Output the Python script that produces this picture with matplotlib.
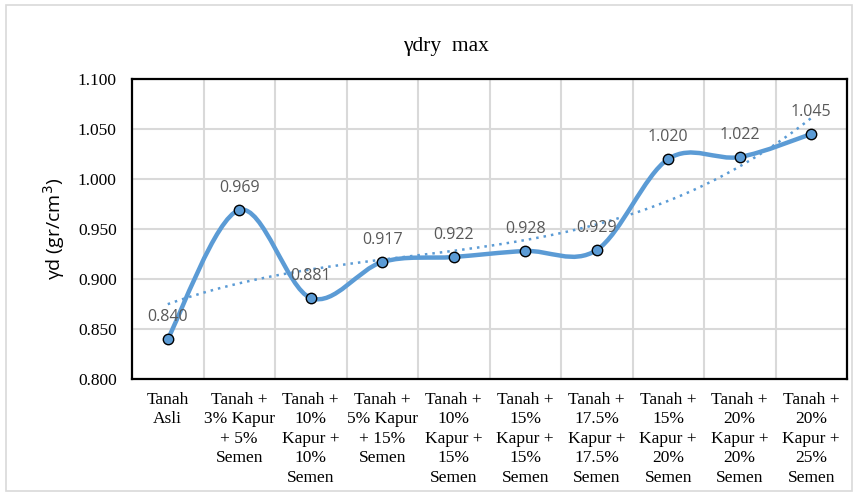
import matplotlib.pyplot as plt
import numpy as np
from matplotlib.path import Path
from matplotlib.patches import PathPatch, Rectangle

# Data
categories = ['Tanah\nAsli', 'Tanah +\n3% Kapur\n+ 5%\nSemen', 'Tanah +\n10%\nKapur +\n10%\nSemen',
              'Tanah +\n5% Kapur\n+ 15%\nSemen', 'Tanah +\n10%\nKapur +\n15%\nSemen',
              'Tanah +\n15%\nKapur +\n15%\nSemen', 'Tanah +\n17.5%\nKapur +\n17.5%\nSemen',
              'Tanah +\n15%\nKapur +\n20%\nSemen', 'Tanah +\n20%\nKapur +\n20%\nSemen',
              'Tanah +\n20%\nKapur +\n25%\nSemen']
gamma_dry = [0.840, 0.969, 0.881, 0.917, 0.922, 0.928, 0.929, 1.020, 1.022, 1.045]
y_ticks = [0.800, 0.850, 0.900, 0.950, 1.000, 1.050, 1.100]

blue = '#5B9BD5'
x = np.arange(1, len(gamma_dry) + 1)
y = np.array(gamma_dry)

fig = plt.figure(figsize=(8.58, 4.95), dpi=100)
ax = fig.add_axes([132 / 858, 1 - 379 / 495, (847 - 132) / 858, (379 - 79) / 495])

# outer chart border
fig.patches.append(Rectangle((6 / 858, 4 / 495), 846 / 858, 486 / 495, transform=fig.transFigure,
                             fill=False, edgecolor='#D9D9D9', linewidth=1.2))

# smoothed line (Excel-like bezier through points)
pts = np.column_stack([x, y])
verts = [pts[0]]
codes = [Path.MOVETO]
n = len(pts)
for i in range(n - 1):
    p0 = pts[i - 1] if i > 0 else pts[i]
    p3 = pts[i + 2] if i + 2 < n else pts[i + 1]
    c1 = pts[i] + (pts[i + 1] - p0) / 6
    c2 = pts[i + 1] - (p3 - pts[i]) / 6
    verts += [c1, c2, pts[i + 1]]
    codes += [Path.CURVE4] * 3
ax.add_patch(PathPatch(Path(verts, codes), fill=False, edgecolor=blue, linewidth=3.2,
                       capstyle='round', joinstyle='round', zorder=3))

# polynomial trendline
coef = np.polyfit(x, y, 3)
xt = np.linspace(1, 10, 200)
ax.plot(xt, np.polyval(coef, xt), linestyle=(0, (1, 2)), color=blue, linewidth=1.8, zorder=2)

ax.plot(x, y, linestyle='none', marker='o', markersize=7.5, markerfacecolor=blue,
        markeredgecolor='black', markeredgewidth=1.0, zorder=4)

for xi, yi in zip(x, y):
    ax.annotate(f'{yi:.3f}', (xi, yi), xytext=(0, 10), textcoords='offset points',
                ha='center', va='bottom', fontsize=11.5, color='#595959', family='Open Sans', zorder=5)

ax.set_xlim(0.5, 10.5)
ax.set_ylim(0.8, 1.1)
ax.set_yticks(y_ticks)
ax.set_yticklabels([f'{v:.3f}' for v in y_ticks], family='Liberation Serif', fontsize=12.5)
ax.set_xticks(x)
ax.set_xticklabels(categories, family='Liberation Serif', fontsize=12.5, linespacing=1.3, va='top')
ax.set_xticks(np.arange(1.5, 10.5, 1), minor=True)
ax.tick_params(axis='both', which='both', length=0)
ax.tick_params(axis='x', pad=9)
ax.tick_params(axis='y', pad=11)
ax.grid(True, axis='y', color='#D9D9D9', linewidth=1.5)
ax.grid(True, axis='x', which='minor', color='#D9D9D9', linewidth=1.5)
ax.grid(False, axis='x', which='major')
ax.set_axisbelow(True)
for s in ax.spines.values():
    s.set_linewidth(1.6)
    s.set_color('black')

ax.set_ylabel('γd (gr/cm$^3$)', fontsize=14, family='Open Sans', labelpad=8)
fig.text(446 / 858, 1 - 47 / 495, 'γdry  max', ha='center', va='center', fontsize=15.5,
         family='Liberation Serif')

fig.savefig('out.png', dpi=100)
